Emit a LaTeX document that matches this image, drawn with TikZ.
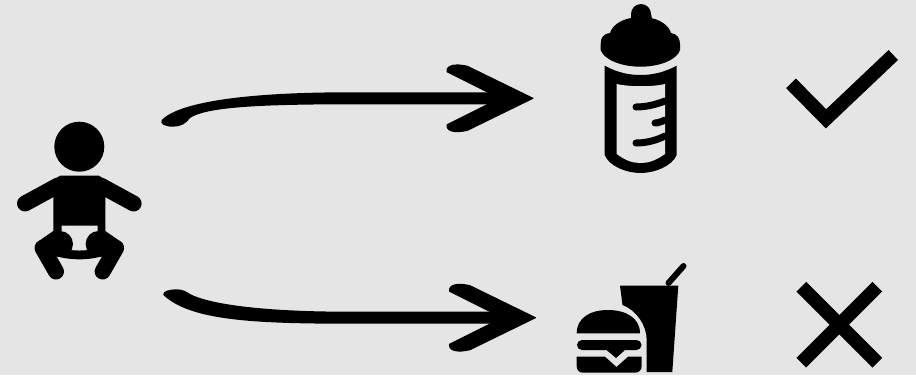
\documentclass[tikz,border=0pt]{standalone}
\definecolor{bgc}{HTML}{E5E5E5}
\tikzset{
  icon/.style={fill=black,draw=none},
  gap/.style={fill=bgc,draw=none},
  limb/.style={draw=black,line width=16pt,line cap=round,line join=round},
  tick/.style={draw=black,line width=7pt,line cap=round},
  verdict/.style={draw=black,line width=13.7pt,line cap=butt,line join=miter,miter limit=10},
  arrowhead/.pic={
    \fill[black,draw=black,line width=1pt,line join=round] (0,0) -- (-65.5,-32) .. controls (-78,-35) and (-87,-33) .. (-86,-26.5) -- (-45,-6) -- (-45,6) -- (-86,26.5) .. controls (-87,33) and (-78,35) .. (-65.5,32) -- cycle;
  }
}
\begin{document}
\begin{tikzpicture}[x=1pt,y=-1pt]
\useasboundingbox (0,0) rectangle (916,375);
\fill[bgc] (0,0) rectangle (916,375);
% baby
\fill[icon] (79.3,146.7) circle (25);
\fill[icon] (60,175.7) -- (99,175.7) -- (105.3,180) -- (105.3,232) -- (53.3,232) -- (53.3,180) -- cycle;
\draw[limb] (25,203.5) -- (58,185.5);
\draw[limb] (133.6,203.5) -- (100.6,185.5);
\fill[icon] (60,250) -- (98.6,250) -- (103.5,255.7) .. controls (90,260.5) and (69,260.5) .. (55,255.7) -- cycle;
\fill[gap] (61.7,225.7) -- (97.7,225.7) -- (97.7,240) -- (88,250) .. controls (83,250.7) and (76,250.7) .. (71,250) -- (61.7,240) -- cycle;
\fill[icon] (60,244) circle (13);
\fill[icon] (98.6,244) circle (13);
\fill[icon] (53.3,231) -- (36,243) -- (42,256) -- (62,256.5) -- (66,235) -- cycle;
\fill[icon] (105.3,231) -- (122.6,243) -- (116.6,256) -- (96.6,256.5) -- (92.6,235) -- cycle;
\draw[limb] (56,271.5) -- (42.5,248) -- (60,240);
\draw[limb] (102.6,271.5) -- (116.1,248) -- (98.6,240);
% upper arrow
\coordinate (t1) at (533,98.3);
\fill[icon] (161.7,120) .. controls (175,106) and (225,92.3) .. (350,92.3) -- (495,92.3) -- (495,104.3) -- (350,104.3) .. controls (250,104.3) and (205,108) .. (190,118) .. controls (186,124) and (180,126.7) .. (173,126.7) .. controls (165,126.7) and (159.5,124) .. (161.7,120) -- cycle;
\pic at (t1) {arrowhead};
% lower arrow
\coordinate (t2) at (535.5,317.7);
\fill[icon] (163.3,295) .. controls (162,291) and (170,289.3) .. (176.7,289.3) .. controls (183,289.3) and (187,292) .. (190,294) .. controls (205,302) and (250,311.7) .. (350,311.7) -- (495,311.7) -- (495,323.7) -- (350,323.7) .. controls (250,323.7) and (190,320) .. (163.3,295) -- cycle;
\pic at (t2) {arrowhead};
% bottle
\fill[icon] (641,14) circle (10);
\fill[icon] (631,14) -- (651,14) -- (652,19) -- (631,19) -- cycle;
\fill[icon] (631,18) .. controls (620,20) and (612,26) .. (610,33) .. controls (603,34) and (600.7,38) .. (600.7,44) -- (600.7,50) .. controls (604,60) and (622,66.7) .. (640.5,66.7) .. controls (659,66.7) and (677,60) .. (680,50) -- (680,44) .. controls (680,38) and (677,34) .. (671,33) .. controls (669,26) and (661,20) .. (651,18) -- cycle;
\fill[icon] (604.7,65.7) .. controls (618,73) and (630,75) .. (640.7,75) .. controls (651,75) and (663,73) .. (676.7,65.7) -- (676.7,155) .. controls (672,166) and (655,173) .. (640.7,173) .. controls (626,173) and (609,166) .. (604.7,155) -- cycle;
\fill[gap] (616.7,84) .. controls (630,87) and (652,87) .. (665,84) -- (665,154) .. controls (655,161) and (648,163) .. (640.7,163) .. controls (633,163) and (626,161) .. (616.7,154) -- cycle;
\draw[tick] (636,107) .. controls (646,107) and (656,104.5) .. (665,101);
\draw[tick] (655,123) .. controls (658,123) and (662,121.5) .. (665,120);
\draw[tick] (636,143) .. controls (646,143) and (656,140.5) .. (665,136);
% food
\draw[draw=black,line width=6pt,line cap=round] (668.5,283) -- (683.5,266);
\fill[icon] (620,285.7) -- (678.3,285.7) -- (672.3,372) -- (646.7,372) -- (646.7,340) .. controls (646.7,325) and (636,310) .. (622.5,305) -- cycle;
\fill[icon] (576.7,333.3) .. controls (576.7,318) and (590,310) .. (608,310) .. controls (626,310) and (640,318) .. (640,333.3) -- cycle;
\fill[icon] (582,340) -- (636.5,340) arc (-90:90:5) -- (625,350) -- (616,358) -- (606.5,350) -- (582,350) arc (90:270:5) -- cycle;
\fill[icon] (576.7,356.7) -- (605,356.7) -- (616.5,367) -- (628,356.7) -- (641.7,356.7) -- (641.7,366) .. controls (641.7,370) and (639,372.7) .. (635,372.7) -- (583,372.7) .. controls (579,372.7) and (576.7,370) .. (576.7,366) -- cycle;
% verdicts
\draw[verdict] (791,83.3) -- (826,118.8) -- (893.3,55);
\coordinate (xa) at (801.3,286.7);
\coordinate (xb) at (877.3,362.7);
\coordinate (xc) at (877.3,286.7);
\coordinate (xd) at (801.3,362.7);
\draw[verdict] (xa) -- (xb);
\draw[verdict] (xc) -- (xd);
\end{tikzpicture}
\end{document}
